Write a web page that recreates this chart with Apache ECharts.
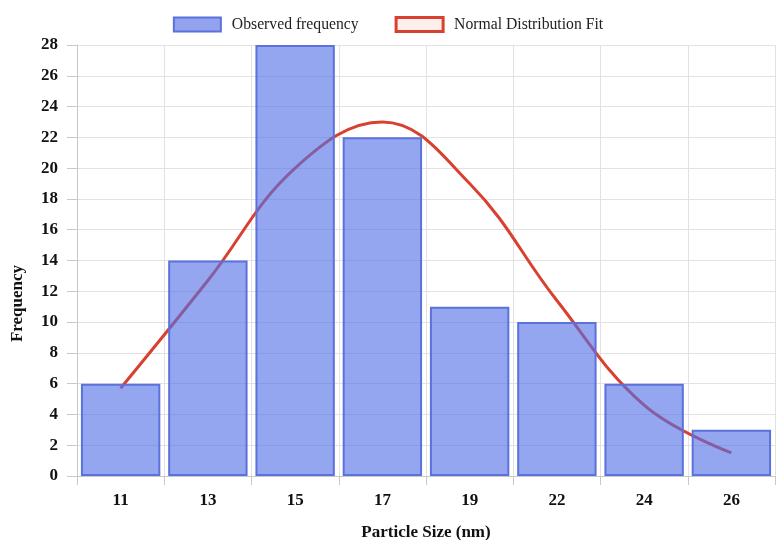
<!DOCTYPE html>
<html>
<head>
<meta charset="utf-8">
<script src="https://cdn.jsdelivr.net/npm/echarts@6/dist/echarts.min.js"></script>
<style>
  html, body { margin: 0; padding: 0; background: #fff; }
  #chart { width: 776px; height: 540px; }
</style>
</head>
<body>
<div id="chart"></div>
<script>
// particle size bins and counts
var sizes = ['11', '13', '15', '17', '19', '22', '24', '26'];
var observed = [6, 14, 28, 22, 11, 10, 6, 3];
// fitted normal curve at each bin centre
var normalFit = [5.7, 12.7, 20.0, 23.0, 19.0, 11.4, 4.6, 1.5];

var serif = 'Liberation Serif, Times New Roman, serif';
var chart = echarts.init(document.getElementById('chart'));

var option = {
  backgroundColor: '#fff',
  textStyle: { fontFamily: serif },
  legend: {
    top: 11,
    left: 'center',
    itemWidth: 47,
    itemHeight: 14,
    itemGap: 36,
    textStyle: { fontFamily: serif, fontSize: 15.7, color: '#222', padding: [0, 0, 0, 6] },
    data: [
      {
        name: 'Observed frequency',
        icon: 'rect',
        itemStyle: { color: '#93a2ee', borderColor: '#5b72dc', borderWidth: 2 }
      },
      {
        name: 'Normal Distribution Fit',
        icon: 'rect',
        itemStyle: { color: '#fdefec', borderColor: '#d8412f', borderWidth: 3 },
        lineStyle: { width: 0 }
      }
    ]
  },
  grid: { left: 77, right: 1, top: 45, bottom: 64, outerBoundsMode: 'none', containLabel: false },
  xAxis: {
    type: 'category',
    data: sizes,
    name: 'Particle Size (nm)',
    nameLocation: 'middle',
    nameGap: 48,
    nameTextStyle: { fontFamily: serif, fontSize: 17, fontWeight: 'bold', color: '#111' },
    axisLine: { lineStyle: { color: '#c8c8c8' } },
    axisTick: { show: true, length: 9, lineStyle: { color: '#c8c8c8' } },
    axisLabel: { fontFamily: serif, fontSize: 17, fontWeight: 'bold', color: '#111', margin: 16 },
    splitLine: { show: true, lineStyle: { color: '#e2e2e2' } }
  },
  yAxis: {
    type: 'value',
    min: 0,
    max: 28,
    interval: 2,
    name: 'Frequency',
    nameLocation: 'middle',
    nameGap: 51,
    nameTextStyle: { fontFamily: serif, fontSize: 17, fontWeight: 'bold', color: '#111', padding: [0, 86, 0, 0] },
    axisLine: { show: true, lineStyle: { color: '#c8c8c8' } },
    axisTick: { show: true, length: 10, lineStyle: { color: '#c8c8c8' } },
    axisLabel: { fontFamily: serif, fontSize: 17, fontWeight: 'bold', color: '#111', margin: 19 },
    splitLine: { show: true, lineStyle: { color: '#e2e2e2' } }
  },
  series: [
    {
      name: 'Normal Distribution Fit',
      type: 'line',
      data: normalFit,
      smooth: 0.4,
      symbol: 'none',
      z: 1,
      itemStyle: { color: '#d8412f' },
      lineStyle: { color: '#d8412f', width: 3 }
    },
    {
      name: 'Observed frequency',
      type: 'bar',
      data: observed,
      barCategoryGap: '9%',
      z: 2,
      itemStyle: {
        color: 'rgba(84,112,230,0.62)',
        borderColor: '#5b72dc',
        borderWidth: 2
      }
    }
  ]
};

chart.setOption(option);
</script>
</body>
</html>
